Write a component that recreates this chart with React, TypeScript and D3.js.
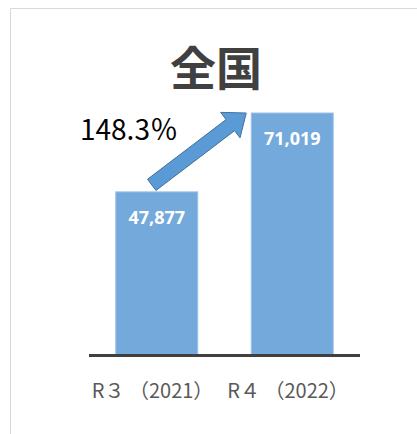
import React from "react";
import * as d3 from "d3";

const categories = ["R３ （2021）", "R４ （2022）"];
const values = [47877, 71019];
const valueLabels = ["47,877", "71,019"];
const titleText = "全国";
const growthText = "148.3％";

const W = 417;
const H = 434;
const baseY = 355;

export default function App() {
  const x = d3.scaleBand<string>().domain(categories).range([89, 360]).paddingInner(0.395).paddingOuter(0.1975);
  const y = d3.scaleLinear().domain([0, 80000]).range([baseY, baseY - 272.6]);

  // arrow geometry anchored to bars
  const x1 = (x(categories[0]) ?? 0) + x.bandwidth() / 2 - 5;
  const y1 = y(values[0]) - 7;
  const x2 = (x(categories[1]) ?? 0) - 5;
  const y2 = y(values[1]);
  const dx = x2 - x1, dy = y2 - y1;
  const len = Math.hypot(dx, dy);
  const ux = dx / len, uy = dy / len;
  const nx = -uy, ny = ux;
  const shaftW = 7, headW = 16, headL = 20;
  const bx = x2 - ux * headL, by = y2 - uy * headL;
  const pts: [number, number][] = [
    [x1 + nx * shaftW, y1 + ny * shaftW],
    [bx + nx * shaftW, by + ny * shaftW],
    [bx + nx * headW, by + ny * headW],
    [x2, y2],
    [bx - nx * headW, by - ny * headW],
    [bx - nx * shaftW, by - ny * shaftW],
    [x1 - nx * shaftW, y1 - ny * shaftW],
  ];
  const arrowPath = d3.line()(pts) + "Z";

  return (
    <svg width={W} height={H} style={{ position: "absolute", left: 0, top: 0 }}>
      <rect x={0} y={0} width={W} height={H} fill="#ffffff" />
      <path d={`M10.5,${H} L10.5,8.5 L${W},8.5`} fill="none" stroke="#d9d9d9" strokeWidth={1} />
      <text x={216} y={85} textAnchor="middle" fontFamily="'Noto Sans CJK JP'" fontWeight="bold" fontSize={46} fill="#404040">{titleText}</text>
      {categories.map((c, i) => (
        <g key={c}>
          <rect x={x(c)} y={y(values[i])} width={x.bandwidth()} height={baseY - y(values[i])} fill="#74a9db" stroke="#9cc3e8" strokeWidth={1} />
          <text x={(x(c) ?? 0) + x.bandwidth() / 2} y={y(values[i]) + 32} textAnchor="middle" fontFamily="'Open Sans'" fontWeight="bold" fontSize={18} fill="#ffffff">{valueLabels[i]}</text>
          <text x={(x(c) ?? 0) - 24} y={398} textAnchor="start" fontFamily="'Noto Sans CJK JP'" fontSize={20} fill="#595959">{c}</text>
        </g>
      ))}
      <line x1={89} x2={360} y1={baseY + 0.5} y2={baseY + 0.5} stroke="#404040" strokeWidth={3} />
      <path d={arrowPath} fill="#5b9bd5" stroke="#41719c" strokeWidth={1} />
      <text x={80} y={140} fontFamily="'Noto Sans CJK JP'" fontSize={28} fill="#000000">{growthText}</text>
    </svg>
  );
}
